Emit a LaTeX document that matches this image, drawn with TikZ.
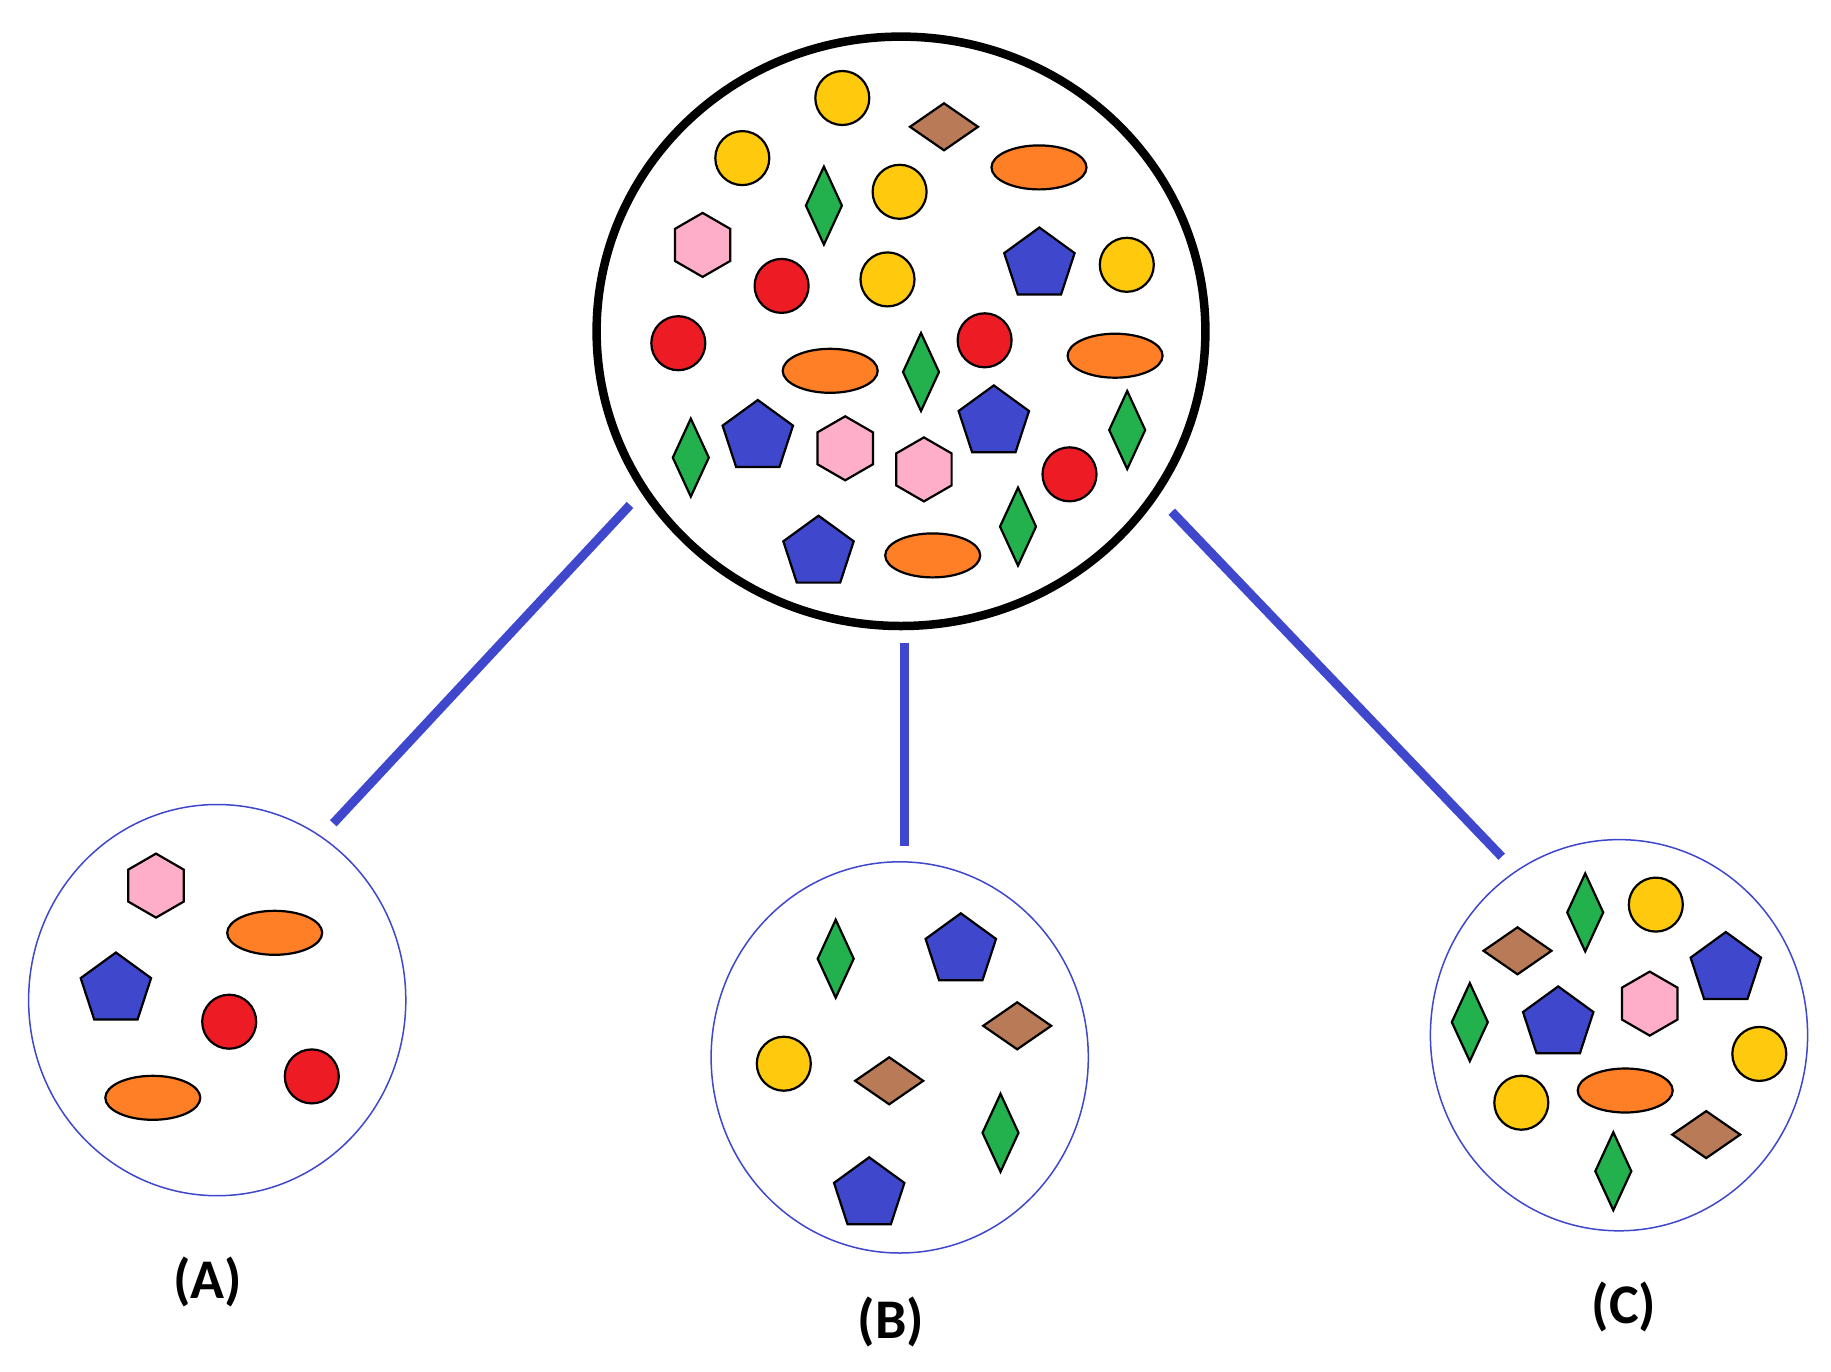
\documentclass[tikz,border=0pt]{standalone}
\usepackage{fontspec}
\setmainfont{Carlito}
\usetikzlibrary{shapes.geometric}
\definecolor{cgold}{HTML}{FFC90E}
\definecolor{cred}{HTML}{ED1C24}
\definecolor{corange}{HTML}{FF7F27}
\definecolor{cgreen}{HTML}{22B14C}
\definecolor{cbrown}{HTML}{B97A57}
\definecolor{crose}{HTML}{FFAEC9}
\definecolor{cindigo}{HTML}{3F48CC}
\tikzset{
  shp/.style={draw=black, line width=1.1pt, line join=miter},
  ycirc/.pic={\draw[shp, fill=cgold] (0,0) circle[radius=27];},
  rcirc/.pic={\draw[shp, fill=cred] (0,0) circle[radius=27];},
  oell/.pic={\draw[shp, fill=corange] (0,0) ellipse[x radius=47.5, y radius=22];},
  gdia/.pic={\draw[shp, fill=cgreen] (0,-39)--(18,0)--(0,39)--(-18,0)--cycle;},
  bdia/.pic={\draw[shp, fill=cbrown] (-34,0)--(0,-23.5)--(34,0)--(0,23.5)--cycle;},
  phex/.pic={\draw[shp, fill=crose] (0,-32)--(27.7,-16)--(27.7,16)--(0,32)--(-27.7,16)--(-27.7,-16)--cycle;},
  bpent/.pic={\draw[shp, fill=cindigo] (0,-37)--(35.2,-11.4)--(21.7,29.9)--(-21.7,29.9)--(-35.2,-11.4)--cycle;},
  bigpool/.style={ellipse, draw=black, line width=4.25pt, inner sep=0pt,
    minimum width=304.4pt, minimum height=294.7pt},
  subpool/.style={ellipse, draw=cindigo, line width=0.75pt, inner sep=0pt,
    minimum width=188.6pt, minimum height=195.6pt},
  link/.style={draw=cindigo, line width=4.5pt, line cap=butt},
  lab/.style={font=\fontsize{28}{32}\selectfont\bfseries, inner sep=0pt}
}
\begin{document}
\begin{tikzpicture}[x=0.5pt, y=-0.5pt]
\useasboundingbox[fill=white] (0,0) rectangle (1831,1371);

% main pool
\node[bigpool] (big) at (901,331.3) {};
\foreach \p in {(842.3,98.0),(742.3,158.1),(899.6,191.8),(887.5,279.4),(1126.8,264.8)} \pic at \p {ycirc};
\pic at (944,126.8) {bdia};
\foreach \p in {(1039,167.4),(830.2,370.8),(1115.1,355.7),(932.7,555.4)} \pic at \p {oell};
\foreach \p in {(823.9,205.6),(921,372),(690.8,457.6),(1127.2,430),(1018,526.6)} \pic at \p {gdia};
\foreach \p in {(702.6,244.9),(845.2,448.3),(923.9,469.4)} \pic at \p {phex};
\foreach \p in {(1039.4,264.5),(757.8,437),(993.8,422.4),(818.5,552.7)} \pic at \p {bpent};
\foreach \p in {(781.6,285.9),(678.3,343.2),(984.6,340.3),(1069.5,474.3)} \pic at \p {rcirc};

% sample A
\node[subpool] (A) at (217.2,1000.1) {};
\pic at (156,885.6) {phex};
\pic at (274.7,932.8) {oell};
\pic at (115.9,989.5) {bpent};
\pic at (229.2,1021.7) {rcirc};
\pic at (311.8,1076.4) {rcirc};
\pic at (152.8,1097.8) {oell};

% sample B
\node[subpool] (B) at (899.7,1057.4) {};
\pic at (835.7,958.7) {gdia};
\pic at (960.8,950.3) {bpent};
\pic at (1017.2,1025.8) {bdia};
\pic at (783.8,1063.7) {ycirc};
\pic at (889.2,1080.8) {bdia};
\pic at (1000.5,1132.8) {gdia};
\pic at (869.2,1194.3) {bpent};

% sample C
\node[subpool] (C) at (1619,1035.2) {};
\pic at (1585.2,912.4) {gdia};
\pic at (1655.8,904.6) {ycirc};
\pic at (1517.5,950.8) {bdia};
\pic at (1725.8,969) {bpent};
\pic at (1469.8,1022.1) {gdia};
\pic at (1558.2,1023.4) {bpent};
\pic at (1649.7,1003.6) {phex};
\pic at (1759.3,1053.9) {ycirc};
\pic at (1521.3,1102.7) {ycirc};
\pic at (1625.2,1090.5) {oell};
\pic at (1706.2,1134.6) {bdia};
\pic at (1613.3,1171.2) {gdia};

% labels
\node[lab] (labA) at (207.5,1282) {(A)};
\node[lab] (labB) at (891,1322) {(B)};
\node[lab] (labC) at (1624,1306.7) {(C)};

% connectors
\coordinate (lA1) at (630,505);
\coordinate (lA2) at (333.3,823.3);
\coordinate (lB1) at (904.5,642.7);
\coordinate (lB2) at (904.5,846);
\coordinate (lC1) at (1171.7,511.7);
\coordinate (lC2) at (1501.7,856.7);
\draw[link] (lA1) -- (lA2);
\draw[link] (lB1) -- (lB2);
\draw[link] (lC1) -- (lC2);
\end{tikzpicture}
\end{document}
